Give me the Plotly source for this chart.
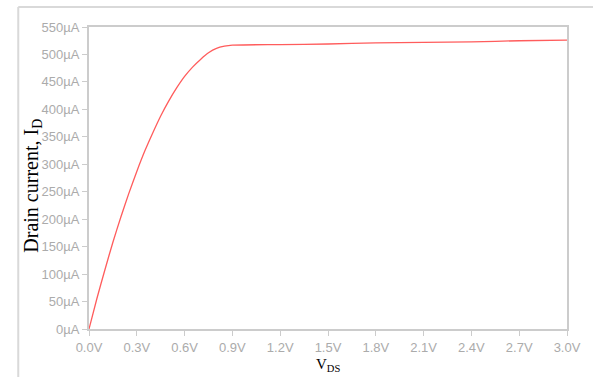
import plotly.graph_objects as go

# Drain voltage (V) and drain current (µA) samples
vds = [0.0, 0.05, 0.1, 0.15, 0.2, 0.25, 0.3, 0.35, 0.4, 0.45, 0.5, 0.55, 0.6,
       0.65, 0.7, 0.75, 0.8, 0.85, 0.9, 1.2, 1.5, 1.8, 2.1, 2.4, 2.7, 3.0]
id_ua = [0, 56, 108, 158, 204, 247, 287, 324, 357, 388, 415, 439, 460,
         477, 491, 503, 511, 515, 517, 518, 519, 521, 522, 523, 525, 526]

x_ticks = [0.0, 0.3, 0.6, 0.9, 1.2, 1.5, 1.8, 2.1, 2.4, 2.7, 3.0]
x_labels = [f"{v:.1f}V" for v in x_ticks]
y_ticks = list(range(0, 551, 50))
y_labels = [f"{v}µA" for v in y_ticks]

fig = go.Figure()
fig.add_trace(go.Scatter(
    x=vds, y=id_ua, mode="lines",
    line=dict(color="#ff5c5c", width=1.3, shape="spline", smoothing=0.6),
    hoverinfo="skip", showlegend=False,
))

axis_grey = "#cccccc"
tick_font = dict(family="Liberation Sans, Arial, sans-serif", size=13, color="#ababab")

fig.update_xaxes(
    range=[0, 3], tickvals=x_ticks, ticktext=x_labels,
    showgrid=False, zeroline=False,
    showline=True, linecolor=axis_grey, linewidth=2, mirror=True,
    ticks="outside", ticklen=5, tickcolor=axis_grey, tickwidth=1,
    tickfont=tick_font,
)
fig.update_yaxes(
    range=[0, 550], tickvals=y_ticks, ticktext=y_labels,
    showgrid=False, zeroline=False,
    showline=True, linecolor=axis_grey, linewidth=2, mirror=True,
    ticks="outside", ticklen=5, tickcolor=axis_grey, tickwidth=1,
    tickfont=tick_font,
)

serif = "Liberation Serif, Times New Roman, serif"
fig.update_layout(
    width=593, height=377,
    margin=dict(l=89, r=17, t=27, b=48),
    paper_bgcolor="white", plot_bgcolor="white",
    shapes=[
        # outer frame: top and left edges
        dict(type="line", xref="paper", yref="paper",
             x0=-0.148, x1=1.1, y0=1.066, y1=1.066,
             line=dict(color="#d9d9d9", width=2)),
        dict(type="line", xref="paper", yref="paper",
             x0=-0.148, x1=-0.148, y0=1.066, y1=-0.2,
             line=dict(color="#d9d9d9", width=2)),
    ],
    annotations=[
        dict(text="Drain current, I<sub>D</sub>", xref="paper", yref="paper",
             x=-0.119, y=0.475, textangle=-90, showarrow=False,
             xanchor="center", yanchor="middle",
             font=dict(family=serif, size=20, color="black")),
        dict(text="V<sub>DS</sub>", xref="paper", yref="paper",
             x=0.499, y=-0.12, showarrow=False,
             xanchor="center", yanchor="middle",
             font=dict(family=serif, size=15, color="black")),
    ],
)

fig.write_html("out.html")
